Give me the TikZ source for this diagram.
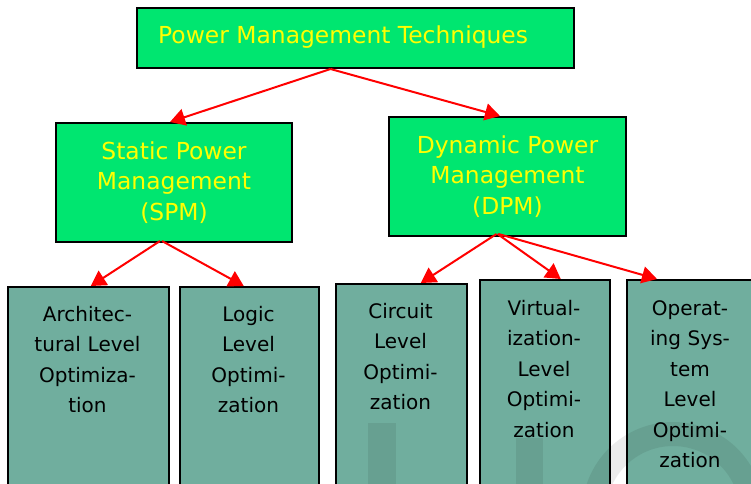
\documentclass[tikz,border=0pt]{standalone}
\usepackage{fontspec}
\setmainfont{DejaVu Sans}
\usetikzlibrary{arrows.meta}
\definecolor{boxgreen}{RGB}{0,230,112}
\definecolor{boxteal}{RGB}{112,174,158}
\definecolor{textyellow}{RGB}{255,255,0}
\begin{document}
\begin{tikzpicture}[x=1pt,y=-1pt,
  greenbox/.style={draw=black, line width=2pt, fill=boxgreen, inner sep=0pt},
  tealbox/.style={draw=black, line width=1.5pt, fill=boxteal, inner sep=0pt, anchor=north west},
  headtext/.style={text=textyellow, align=center, inner sep=0pt,
    font=\fontsize{23.4pt}{30.5pt}\selectfont},
  leaftext/.style={text=black, align=center, inner sep=0pt, anchor=base,
    text width=150pt, font=\fontsize{20pt}{30.5pt}\selectfont},
  link/.style={draw=red, line width=2pt, -{Triangle[length=15pt,width=17pt]}},
  faintshape/.style={fill=black, opacity=0.08}]
\clip (0,0) rectangle (751,483);
\fill[white] (0,0) rectangle (751,483);

% upper level
\node[greenbox, minimum width=437pt, minimum height=60pt] (top) at (355.5,38) {};
\node[text=textyellow, inner sep=0pt, anchor=base west,
  font=\fontsize{23.4pt}{30.5pt}\selectfont] (toptext) at (158,43) {Power Management Techniques};

\node[greenbox, minimum width=236pt, minimum height=119pt, headtext] (spm) at (174,182.5)
  {Static Power\\Management\\(SPM)};
\node[greenbox, minimum width=237pt, minimum height=119pt, headtext] (dpm) at (507.5,176.5)
  {Dynamic Power\\Management\\(DPM)};

% leaf boxes
\node[tealbox, minimum width=161pt, minimum height=220pt] (arch) at (7,286) {};
\node[tealbox, minimum width=139pt, minimum height=220pt] (logic) at (179,286) {};
\node[tealbox, minimum width=131pt, minimum height=225pt] (circ) at (335,283) {};
\node[tealbox, minimum width=130pt, minimum height=230pt] (virt) at (479,279) {};
\node[tealbox, minimum width=130pt, minimum height=230pt] (os) at (626,279) {};

% faint background marks
\fill[faintshape] (368,423) rectangle (396,490);
\fill[faintshape] (516,438) rectangle (543,490);
\fill[faintshape, even odd rule] (673,513) circle (91pt) (673,513) circle (67pt);

% leaf labels
\node[leaftext] (archtext) at (87.5,321) {Architec-\\tural Level\\Optimiza-\\tion};
\node[leaftext] (logictext) at (248.5,321) {Logic\\Level\\Optimi-\\zation};
\node[leaftext] (circtext) at (400.5,318) {Circuit\\Level\\Optimi-\\zation};
\node[leaftext] (virttext) at (544,315) {Virtual-\\ization-\\Level\\Optimi-\\zation};
\node[leaftext] (ostext) at (690,315) {Operat-\\ing Sys-\\tem\\Level\\Optimi-\\zation};

% connectors
\draw[link] ([xshift=-25pt]top.south) -- ([xshift=-4pt]spm.north);
\draw[link] ([xshift=-25pt]top.south) -- ([xshift=-7.5pt]dpm.north);
\draw[link] ([xshift=-14pt,yshift=2pt]spm.south) -- ([xshift=2.5pt]arch.north);
\draw[link] ([xshift=-12pt,yshift=2pt]spm.south) -- ([xshift=-5.5pt]logic.north);
\draw[link] ([xshift=-11pt,yshift=3pt]dpm.south) -- ([xshift=19.5pt]circ.north);
\draw[link] ([xshift=-10pt,yshift=3pt]dpm.south) -- ([xshift=16pt]virt.north);
\draw[link] ([xshift=-9pt,yshift=3pt]dpm.south) -- ([xshift=31pt]os.north west);
\end{tikzpicture}
\end{document}
